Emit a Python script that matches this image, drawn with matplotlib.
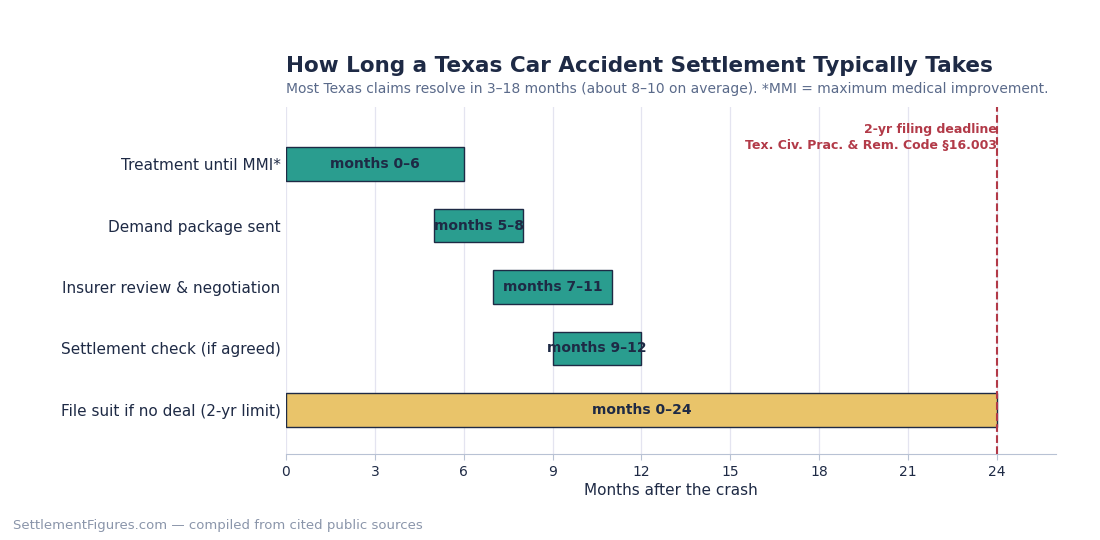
import matplotlib
matplotlib.use("Agg")
import matplotlib.pyplot as plt

stages = [
    "Treatment until MMI*",
    "Demand package sent",
    "Insurer review & negotiation",
    "Settlement check (if agreed)",
    "File suit if no deal (2-yr limit)",
]
starts = [0, 5, 7, 9, 0]
ends = [6, 8, 11, 12, 24]
colors = ["#2a9d8f", "#2a9d8f", "#2a9d8f", "#2a9d8f", "#e9c46a"]
deadline = 24

navy = "#1e2a45"

fig = plt.figure(figsize=(11, 5.4), dpi=100)
ax = fig.add_axes([0.26, 0.159, 0.70, 0.643])

ypos = list(range(len(stages)))
widths = [e - s for s, e in zip(starts, ends)]
ax.barh(ypos, widths, left=starts, height=0.55, color=colors,
        edgecolor=navy, linewidth=1.0, zorder=3)

for y, s, e in zip(ypos, starts, ends):
    ax.text((s + e) / 2, y, f"months {s}\u2013{e}", ha="center", va="center",
            fontsize=10, fontweight="bold", color=navy, zorder=4)

ax.axvline(deadline, color="#b23a48", linestyle="--", linewidth=1.5, zorder=4)
ax.text(deadline, -0.43, "2-yr filing deadline\nTex. Civ. Prac. & Rem. Code §16.003",
        ha="right", va="center", fontsize=9, fontweight="bold",
        color="#b23a48", linespacing=1.3, zorder=5)

ax.set_xlim(0, 26)
ax.set_ylim(4.72, -0.93)
ax.set_xticks(range(0, 25, 3))
ax.set_yticks(ypos)
ax.set_yticklabels(stages, fontsize=11, color=navy)
ax.tick_params(axis="y", length=0, pad=4)
ax.tick_params(axis="x", labelsize=10, colors=navy, length=4, color="#b8c2d4")
ax.set_xlabel("Months after the crash", fontsize=11, color=navy, labelpad=3)
ax.grid(axis="x", color="#e4e4f0", linewidth=0.9, zorder=0)
ax.set_axisbelow(True)
for side in ["top", "right", "left"]:
    ax.spines[side].set_visible(False)
ax.spines["bottom"].set_color("#b8c2d4")

fig.text(0.26, 0.878, "How Long a Texas Car Accident Settlement Typically Takes",
         fontsize=15.5, fontweight="bold", color=navy, ha="left", va="center")
fig.text(0.26, 0.836, "Most Texas claims resolve in 3\u201318 months (about 8\u201310 on average). *MMI = maximum medical improvement.",
         fontsize=10, color="#5a6a8a", ha="left", va="center")
fig.text(0.012, 0.027, "SettlementFigures.com \u2014 compiled from cited public sources",
         fontsize=9.5, color="#8a95aa", ha="left", va="center")

fig.savefig("out.png", dpi=100)
